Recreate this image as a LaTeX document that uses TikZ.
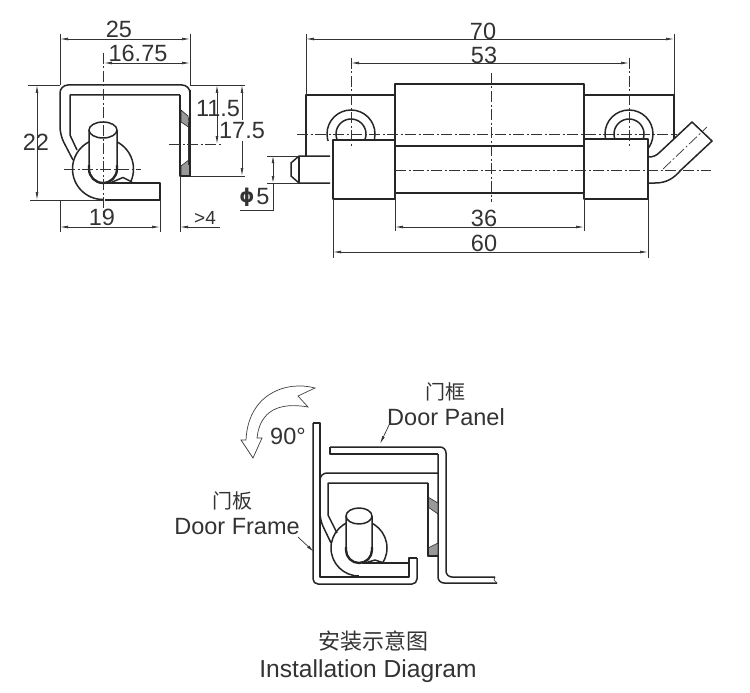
\documentclass[tikz,border=0pt]{standalone}
\usepackage{fontspec}
\setmainfont{Liberation Sans}
\newfontfamily\cjk{Noto Sans CJK SC}
\newfontfamily\symfont{DejaVu Sans}
\usetikzlibrary{arrows.meta,patterns}
\tikzset{
  obj/.style={line width=1.5pt,draw=black!85,line join=round},
  thn/.style={line width=0.7pt,draw=black!80},
  dimn/.style={thn,{Latex[length=8pt,width=2.8pt]}-{Latex[length=8pt,width=2.8pt]}},
  dimr/.style={thn,-{Latex[length=8pt,width=2.8pt]}},
  ctr/.style={line width=0.7pt,draw=black!80,dash pattern=on 11pt off 2.5pt on 2pt off 2.5pt},
  lbl/.style={inner sep=0pt,text=black!80,font=\fontsize{23.5}{25}\selectfont},
  slbl/.style={inner sep=0pt,text=black!80,font=\fontsize{19}{21}\selectfont},
  clbl/.style={inner sep=0pt,text=black!80,font=\cjk\fontsize{20}{22}\selectfont},
  hatchfill/.style={fill=black!40,draw=black!85,line width=0.6pt},
}
\begin{document}
\begin{tikzpicture}[x=1pt,y=-1pt]
\useasboundingbox (0,0) rectangle (750,693);
\fill[white] (0,0) rectangle (750,693);

% ---------- left view ----------
\draw[obj] (103,169) circle (30.5);
\fill[white] (103,183) rectangle (158,200);
\draw[obj] (105,200) -- (160,200) -- (160,183) -- (105,183);
\draw[obj] (110,183) -- (123,177.5) -- (132,182);
\draw[obj,fill=white] (89,130) -- (89,169) arc[start angle=180,end angle=0,radius=14] -- (117,130);
\draw[line width=2.3pt,draw=black!85] (89,165) -- (89,169) arc[start angle=180,end angle=0,radius=14] -- (117,165);
\draw[obj,fill=white] (103,130) ellipse (14 and 8);
\draw[obj,rounded corners=8pt] (73,160) -- (60,135) -- (60,85) -- (190,85) -- (190,100);
\draw[obj] (77,150) -- (70,135) -- (70,95) -- (180,95);
\draw[hatchfill] (181,110) -- (188,116) -- (190,128) -- (181,122) -- cycle;
\draw[hatchfill] (181,166) -- (190,159) -- (190,176) -- (181,176) -- cycle;
\draw[obj] (190,90) -- (190,176) -- (180,176) -- (180,95);
\draw[thn] (188,122) -- (188,165);
% left view centre lines
\draw[ctr] (103,53) -- (103,217);
\draw[ctr] (64,169) -- (141,169);
\draw[ctr] (169,144) -- (222,144);
% left view dimensions
\draw[thn] (60,34) -- (60,85) (60,200) -- (60,232);
\draw[thn] (190,34) -- (190,85);
\draw[thn] (160,200) -- (160,232);
\draw[thn] (180,176) -- (180,232);
\draw[thn] (28,85) -- (60,85) (30,200) -- (103,200);
\draw[thn] (190,85) -- (245,85) (190,176) -- (245,176);
\draw[dimn] (60,39) -- (190,39);
\draw[dimn] (104,63) -- (190,63);
\draw[dimn] (37,85) -- (37,200);
\draw[dimn] (60,227) -- (160,227);
\draw[dimn] (217,85) -- (217,144);
\draw[thn,{Latex[length=8pt,width=2.8pt]}-] (242,85) -- (242,120);
\draw[thn,-{Latex[length=8pt,width=2.8pt]}] (242,141) -- (242,176);
\draw[thn,{Latex[length=8pt,width=2.8pt]}-] (180,227) -- (220,227);
\node[lbl] (d25) at (119,29) {25};
\node[lbl] (d1675) at (138,53) {16.75};
\node[lbl] (d22) at (36,142) {22};
\node[lbl] (d19) at (102,217) {19};
\node[lbl] (d115) at (218,109) {11.5};
\node[lbl] (d175) at (242,131) {17.5};
\node[slbl] (dgt4) at (205,218) {>4};

% ---------- centre view ----------
\begin{scope}
\clip (300,100) rectangle (400,140.5);
\draw[obj] (351,134) circle (24);
\draw[obj] (351,134) circle (15);
\end{scope}
\begin{scope}
\clip (600,100) rectangle (660,139) (648,139) rectangle (660,150);
\draw[obj] (629,134) circle (24);
\draw[obj] (629,134) circle (15);
\end{scope}
\draw[obj] (306,156) -- (306,95) -- (395,95);
\draw[obj] (584,95) -- (674,95) -- (674,139);
\draw[obj] (395,193) -- (395,84) -- (584,84) -- (584,193);
\draw[obj] (395,146) -- (584,146);
\draw[obj] (395,193) -- (584,193);
\draw[obj] (333,140) rectangle (395,199);
\draw[obj] (584,139) rectangle (648,199);
% pin left
\draw[obj] (330,156) -- (299,156) -- (291,163) -- (291,176) -- (299,183) -- (330,183);
\draw[obj] (299,156) -- (299,183);
% bent end
\draw[obj] (648,157) .. controls (653,157) and (656,156) .. (660,152) -- (692,122) -- (712,141) -- (681,170) .. controls (674,178) and (667,183) .. (655,183) -- (648,183);
% centre lines
\draw[ctr] (297,134) -- (677,134);
\draw[ctr] (395,170) -- (711,170);
\draw[ctr] (663,169) -- (707,127);
\draw[ctr] (491,73) -- (491,202);
\draw[ctr] (351,58) -- (351,147);
\draw[ctr] (629,58) -- (629,147);
% centre dimensions
\draw[thn] (306,34) -- (306,95) (674,34) -- (674,95);
\draw[dimn] (306,39) -- (674,39);
\draw[dimn] (351,63) -- (629,63);
\draw[thn] (395,193) -- (395,231) (584,193) -- (584,231);
\draw[dimn] (395,227) -- (584,227);
\draw[thn] (333,199) -- (333,258) (648,199) -- (648,258);
\draw[dimn] (333,252) -- (648,252);
\node[lbl] (d70) at (483,31) {70};
\node[lbl] (d53) at (484,55) {53};
\node[lbl] (d36) at (484,218) {36};
\node[lbl] (d60) at (484,243) {60};
% phi 5
\draw[thn] (267,156) -- (299,156) (267,183) -- (299,183);
\draw[thn,{Latex[length=7pt,width=2.8pt]}-{Latex[length=7pt,width=2.8pt]}] (273,156) -- (273,183);
\draw[thn] (273,183) -- (273,210) -- (240,210);
\node[lbl,font=\symfont\bfseries\fontsize{19}{21}\selectfont] (dphi) at (247,197) {ϕ};
\node[lbl] (d5) at (263,197) {5};

% ---------- installation diagram ----------
% door frame
\draw[obj,rounded corners=5pt] (313,423) -- (313,584) -- (417,584) -- (417,558);
\draw[obj] (417,558) -- (409,558) -- (409,577) -- (320,577) -- (320,423) -- (313,423);
% door panel
\draw[obj,rounded corners=6pt] (330,447) -- (446,447) -- (446,577) -- (495,577);
\draw[obj,rounded corners=6pt] (438,454) -- (438,583) -- (497,583);
\draw[obj] (438,454) -- (330,454) -- (330,447);
\draw[thn] (495,577) -- (494,580) -- (497,583);
% hinge
\draw[obj] (359,548) circle (28);
\fill[white] (359,563.8) rectangle (408,576);
\draw[obj] (409,563) -- (362,563);
\draw[obj] (365,563) -- (375,560) -- (384,563);
\draw[obj,fill=white] (346,516) -- (346,550) arc[start angle=180,end angle=0,radius=13] -- (372,516);
\draw[line width=2.3pt,draw=black!85] (346,547) -- (346,550) arc[start angle=180,end angle=0,radius=13] -- (372,547);
\draw[obj,fill=white] (359,516) ellipse (13 and 8);
\draw[obj,rounded corners=7pt] (331,543) -- (320,520) -- (320,473) -- (438,473);
\draw[obj] (337,533) -- (328,515) -- (328,483) -- (428,483);
\draw[hatchfill] (428,497) -- (438,503) -- (438,514) -- (428,507) -- cycle;
\draw[hatchfill] (428,548) -- (438,543) -- (438,555) -- (428,556) -- cycle;
\draw[obj] (428,483) -- (428,556) -- (438,556);
% curved arrow
\draw[line width=0.7pt,draw=black!75,line join=miter] (315,388)
  .. controls (285,380) and (248,395) .. (246,440) -- (241,440) -- (253,458) -- (262,438) -- (257,438)
  .. controls (260,410) and (280,402) .. (308,407) -- (298,396) -- cycle;
% leaders
\coordinate (panelend) at (380,444);
\coordinate (frameend) at (314,552);
\node[lbl] (t90) at (288,436) {90°};
\node[clbl] (tmb) at (232,501) {门板};
\node[lbl] (tframe) at (237,527) {Door Frame};
\node[clbl] (tmk) at (445,392) {门框};
\node[lbl] (tpanel) at (446,417) {Door Panel};
\draw[dimr] (298,537) -- (frameend);
\draw[dimr] (390,423) -- (panelend);
\node[clbl,font=\cjk\fontsize{22}{24}\selectfont] (tcn) at (373,641) {安装示意图};
\node[lbl,font=\fontsize{24.6}{26}\selectfont,anchor=base] (ten) at (368,677) {Installation Diagram};
\end{tikzpicture}
\end{document}
